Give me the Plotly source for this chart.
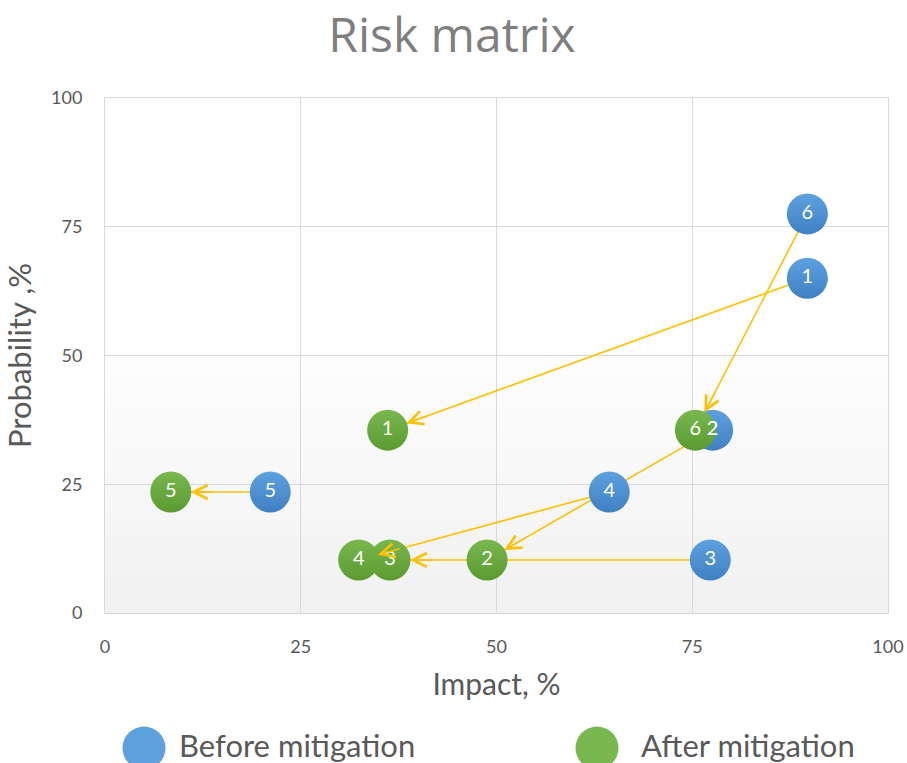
import math
import plotly.graph_objects as go

# ---- data ----
labels = ["1", "2", "3", "4", "5", "6"]
before_impact = [89.7, 77.6, 77.3, 64.4, 21.1, 89.7]
before_prob = [65.0, 35.5, 10.3, 23.5, 23.5, 77.5]
after_impact = [36.1, 48.8, 36.4, 32.4, 8.4, 75.4]
after_prob = [35.5, 10.3, 10.3, 10.3, 23.5, 35.5]
x_ticks = [0, 25, 50, 75, 100]
y_ticks = [0, 25, 50, 75, 100]

W, H = 907, 763
ML, MT = 105, 98
MR = W - 888
MB = H - 613
PW, PH = W - ML - MR, H - MT - MB
SX, SY = PW / 100.0, PH / 100.0

ARROW = "#FFC000"
BLUE, BLUE2 = "#5EA1DF", "#3F80C2"
GREEN, GREEN2 = "#78B84E", "#5B9A31"
TXT = "#595959"
GRID = "#D9D9D9"
FONT = "Lato"

fig = go.Figure()

# connectors
lx, ly = [], []
for i in range(len(labels)):
    lx += [before_impact[i], after_impact[i], None]
    ly += [before_prob[i], after_prob[i], None]
fig.add_trace(go.Scatter(x=lx, y=ly, mode="lines", line=dict(color=ARROW, width=1.6),
                         hoverinfo="skip", showlegend=False))

fig.add_trace(go.Scatter(
    x=before_impact, y=before_prob, mode="markers", name="Before mitigation",
    marker=dict(size=41, color=BLUE, gradient=dict(type="vertical", color=BLUE2), line=dict(width=0)),
    showlegend=False))

fig.add_trace(go.Scatter(
    x=after_impact[::-1], y=after_prob[::-1], mode="markers", name="After mitigation",
    marker=dict(size=41, color=GREEN, gradient=dict(type="vertical", color=GREEN2), line=dict(width=0)),
    showlegend=False))

# data labels on top of all markers
fig.add_trace(go.Scatter(
    x=before_impact, y=before_prob, text=labels, mode="text", hoverinfo="skip",
    textfont=dict(color="white", size=20, family=FONT), textposition="middle center",
    showlegend=False))
fig.add_trace(go.Scatter(
    x=after_impact, y=after_prob, text=labels, mode="text", hoverinfo="skip",
    textfont=dict(color="white", size=20, family=FONT), textposition="middle center",
    showlegend=False))

# arrowheads
anns = []
for i in range(len(labels)):
    dx = (before_impact[i] - after_impact[i]) * SX
    dy = -(before_prob[i] - after_prob[i]) * SY
    d = math.hypot(dx, dy)
    L = 44
    anns.append(dict(x=after_impact[i], y=after_prob[i], xref="x", yref="y",
                     ax=dx / d * L, ay=dy / d * L, text="", showarrow=True,
                     arrowhead=5, arrowsize=1.7, arrowwidth=1.6, arrowcolor=ARROW,
                     standoff=20))

# custom legend (pixel positions converted to paper coords)
shapes = []
def px2paper_x(p):
    return (p - ML) / PW
def px2paper_y(p):
    return (H - MB - p) / PH

R = 21.5
for cx, col in [(144, BLUE), (597, GREEN)]:
    shapes.append(dict(type="circle", xref="paper", yref="paper",
                       x0=px2paper_x(cx - R), x1=px2paper_x(cx + R),
                       y0=px2paper_y(748 - R), y1=px2paper_y(748 + R),
                       fillcolor=col, line=dict(width=0)))
for tx, t in [(177, "Before mitigation"), (639, "After mitigation")]:
    anns.append(dict(x=px2paper_x(tx), y=px2paper_y(745), xref="paper", yref="paper",
                     text=t, showarrow=False, xanchor="left", yanchor="middle",
                     font=dict(size=31, color=TXT, family=FONT)))

# background gradient (lower part of plot)
N = 40
top = 0.56
for k in range(N):
    f = k / N
    c = int(round(241 + (255 - 241) * f))
    shapes.append(dict(type="rect", xref="x domain", yref="y domain",
                       x0=0, x1=1, y0=top * k / N, y1=top * (k + 1) / N,
                       fillcolor=f"rgb({c},{c},{c})", line=dict(width=0), layer="below"))

fig.update_layout(
    width=W, height=H,
    margin=dict(l=ML, r=MR, t=MT, b=MB, autoexpand=False),
    paper_bgcolor="white", plot_bgcolor="white",
    title=dict(text="Risk matrix", xref="container", x=452 / W, xanchor="center",
               yref="container", y=1 - 35 / H, yanchor="middle",
               font=dict(size=48, color="#7F7F7F", family="Open Sans")),
    xaxis=dict(range=[0, 100], tickvals=x_ticks, showgrid=True, gridcolor=GRID, gridwidth=1,
               zeroline=False, showline=True, linecolor=GRID, mirror=True, automargin=False,
               tickfont=dict(size=18, color=TXT, family=FONT), ticklabelstandoff=17,
               title=dict(text="Impact, %", font=dict(size=30, color=TXT, family=FONT), standoff=18)),
    yaxis=dict(range=[0, 100], tickvals=y_ticks, showgrid=True, gridcolor=GRID, gridwidth=1,
               zeroline=False, showline=True, linecolor=GRID, mirror=True, automargin=False,
               tickfont=dict(size=18, color=TXT, family=FONT), ticklabelstandoff=18,
               title=dict(text="Probability ,%", font=dict(size=31, color=TXT, family=FONT), standoff=14)),
    annotations=anns, shapes=shapes, showlegend=False,
)

fig.write_html("out.html", config={"displayModeBar": False},
               post_script="document.body.style.margin='0';document.body.style.overflow='hidden';")
